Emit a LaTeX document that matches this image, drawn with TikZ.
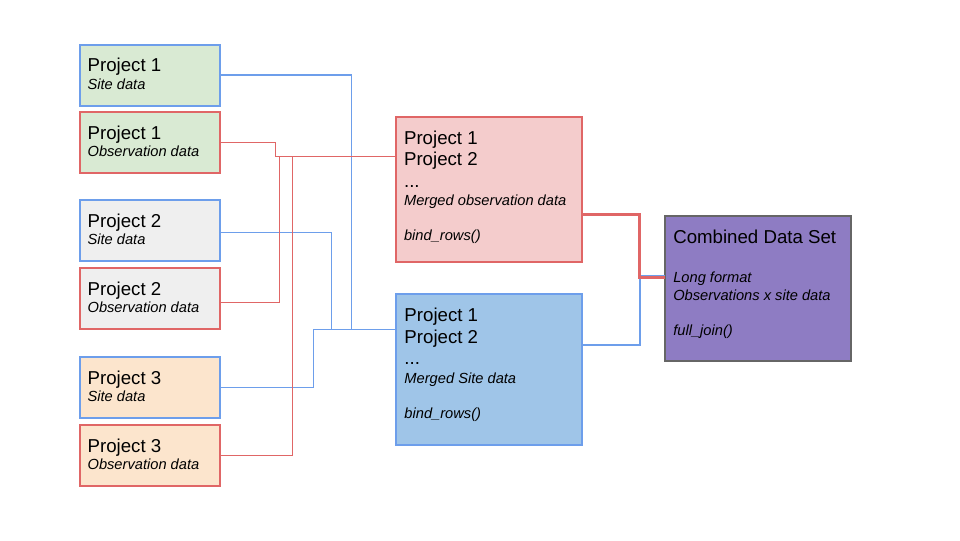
\documentclass[tikz,border=0pt]{standalone}
\usepackage{fontspec}
\setmainfont{Liberation Sans}
\setlength{\parindent}{0pt}
\def\projfont{\fontsize{14pt}{16.1pt}\selectfont}
\def\notefont{\fontsize{11pt}{13.1pt}\selectfont\itshape}

\definecolor{siteblue}{HTML}{6D9EEB}
\definecolor{obsred}{HTML}{E06666}
\definecolor{greenfill}{HTML}{D9EAD3}
\definecolor{greyfill}{HTML}{EFEFEF}
\definecolor{orangefill}{HTML}{FCE5CD}
\definecolor{pinkfill}{HTML}{F4CCCC}
\definecolor{bluefill}{HTML}{9FC5E8}
\definecolor{purplefill}{HTML}{8E7CC3}
\definecolor{combgrey}{HTML}{666666}

\tikzset{
	smallbox/.style={draw, line width=1.5pt, outer sep=0pt, inner sep=0pt, minimum width=105pt, minimum height=45.75pt},
	bigbox/.style={draw, line width=1.5pt, outer sep=0pt, inner sep=0pt},
	boxtext/.style={anchor=north west, inner sep=0pt, align=flush left, font=\projfont},
	siteline/.style={draw=siteblue, line width=1pt},
	obsline/.style={draw=obsred, line width=1pt},
}

\begin{document}
\begin{tikzpicture}[x=0.75pt, y=-0.75pt]
		%%%%% START %%%%%
		\useasboundingbox (0, 0) rectangle (960, 540);
		
		\node[smallbox, draw=siteblue, fill=greenfill] (p1site) at (150, 75) {};
		\node[smallbox, draw=obsred, fill=greenfill] (p1obs) at (150, 142.5) {};
		\node[smallbox, draw=siteblue, fill=greyfill] (p2site) at (150, 230.5) {};
		\node[smallbox, draw=obsred, fill=greyfill] (p2obs) at (150, 298.5) {};
		\node[smallbox, draw=siteblue, fill=orangefill] (p3site) at (150, 387.5) {};
		\node[smallbox, draw=obsred, fill=orangefill] (p3obs) at (150, 455.5) {};
		
		\node[boxtext, text width=95pt] (p1site-txt) at ([shift={(5.5pt,-10.2pt)}]p1site.north west) {Project 1\par{\notefont Site data\par}};
		\node[boxtext, text width=95pt] (p1obs-txt) at ([shift={(5.5pt,-10.2pt)}]p1obs.north west) {Project 1\par{\notefont Observation data\par}};
		\node[boxtext, text width=95pt] (p2site-txt) at ([shift={(5.5pt,-10.2pt)}]p2site.north west) {Project 2\par{\notefont Site data\par}};
		\node[boxtext, text width=95pt] (p2obs-txt) at ([shift={(5.5pt,-10.2pt)}]p2obs.north west) {Project 2\par{\notefont Observation data\par}};
		\node[boxtext, text width=95pt] (p3site-txt) at ([shift={(5.5pt,-10.2pt)}]p3site.north west) {Project 3\par{\notefont Site data\par}};
		\node[boxtext, text width=95pt] (p3obs-txt) at ([shift={(5.5pt,-10.2pt)}]p3obs.north west) {Project 3\par{\notefont Observation data\par}};
		
		\node[bigbox, draw=obsred, fill=pinkfill, minimum width=139.5pt, minimum height=108.75pt] (mergedobs) at (488.8, 189.3) {};
		\node[bigbox, draw=siteblue, fill=bluefill, minimum width=139.2pt, minimum height=112.8pt] (mergedsite) at (489, 369.5) {};
		\node[bigbox, draw=combgrey, fill=purplefill, minimum width=139.3pt, minimum height=109pt] (combined) at (757.9, 288.3) {};
		
		\node[boxtext, text width=125pt] (mergedobs-txt) at ([shift={(6pt,-10.2pt)}]mergedobs.north west) {Project 1\par Project 2\par ...\par\vspace{1pt}{\notefont Merged observation data\par\mbox{}\par bind\_rows()\par}};
		\node[boxtext, text width=125pt] (mergedsite-txt) at ([shift={(6pt,-10.2pt)}]mergedsite.north west) {Project 1\par Project 2\par ...\par\vspace{1pt}{\notefont Merged Site data\par\mbox{}\par bind\_rows()\par}};
		\node[boxtext, text width=125pt] (combined-txt) at ([shift={(6pt,-10.7pt)}]combined.north west) {Combined Data Set\par\mbox{}\par{\notefont Long format\par Observations x site data\par\mbox{}\par full\_join()\par}};
		
		% where the connectors meet the boxes
		\coordinate (obsin) at ([yshift=-30pt]mergedobs.north west);
		\coordinate (sitein) at ([yshift=-26.4pt]mergedsite.north west);
		\coordinate (obsout) at ([yshift=-73.5pt]mergedobs.north east);
		\coordinate (siteout) at ([yshift=-38.25pt]mergedsite.north east);
		\coordinate (combobs) at ([yshift=-46.7pt]combined.north west);
		\coordinate (combsite) at ([yshift=-45.5pt]combined.north west);
		
		\draw[siteline] (p1site.east) -- ++(131.5, 0) |- (sitein);
		\draw[siteline] ([yshift=-1.5pt]p2site.east) -- ++(111.3, 0) |- (sitein);
		\draw[siteline] (p3site.east) -- ++(93.3, 0) |- (sitein);
		
		\draw[obsline] (p1obs.east) -- ++(55.3, 0) |- (obsin);
		\draw[obsline] ([yshift=-3pt]p2obs.east) -- ++(59.3, 0) |- (obsin);
		\draw[obsline] (p3obs.east) -- ++(72.3, 0) |- (obsin);
		
		\draw[siteline, line width=1.5pt] (siteout) -- ++(58.3, 0) |- (combsite);
		\draw[obsline, line width=2.25pt] (obsout) -- ++(57.6, 0) |- (combobs);
		
		%%%%% END %%%%%
	\end{tikzpicture}
\end{document}
